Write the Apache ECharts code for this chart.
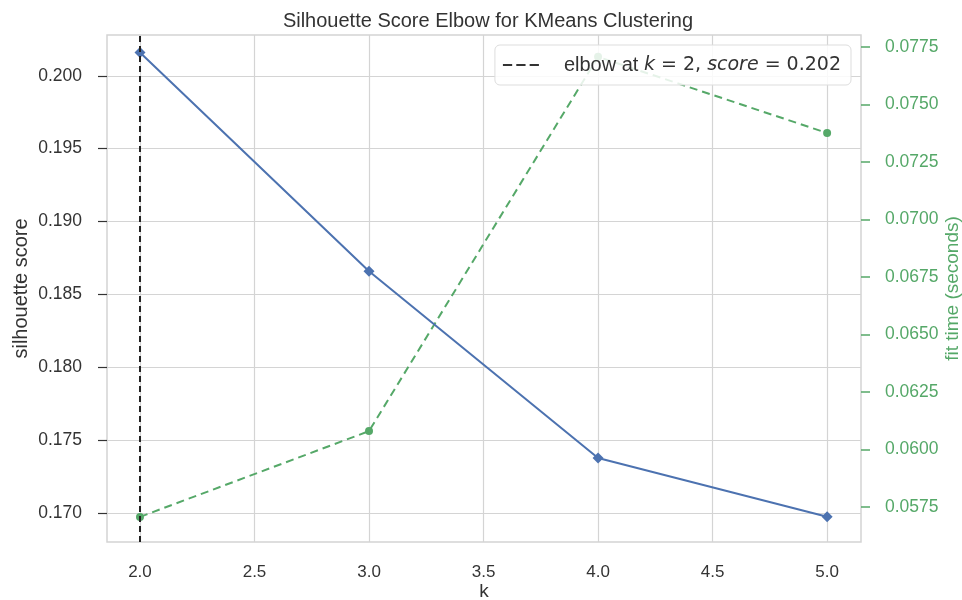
<!DOCTYPE html>
<html><head><meta charset="utf-8">
<script src="https://cdn.jsdelivr.net/npm/echarts@6/dist/echarts.min.js"></script>
<style>html,body{margin:0;padding:0;background:#fff}#c{width:962px;height:600px}</style>
</head><body><div id="c"></div>
<script>
const kValues = [2, 3, 4, 5];
const silhouetteScores = [0.2016, 0.18658, 0.17376, 0.16973];
const fitTimes = [0.05707, 0.0608, 0.07707, 0.07376];
const xTicks = [2.0, 2.5, 3.0, 3.5, 4.0, 4.5, 5.0];
const leftTicks = [0.170, 0.175, 0.180, 0.185, 0.190, 0.195, 0.200];
const rightTicks = [0.0575, 0.0600, 0.0625, 0.0650, 0.0675, 0.0700, 0.0725, 0.0750, 0.0775];
const elbowK = 2;
const elbowScore = 0.202;

const font = 'Liberation Sans, Arial, sans-serif';
const mathFont = 'DejaVu Sans, sans-serif';
const chart = echarts.init(document.getElementById('c'), null, {renderer: 'canvas'});
chart.setOption({
  animation: false,
  backgroundColor: '#fff',
  title: {
    text: 'Silhouette Score Elbow for KMeans Clustering',
    left: 483, top: 6, textAlign: 'center',
    textStyle: {fontFamily: font, fontSize: 20, fontWeight: 'normal', color: '#333'}
  },
  legend: {
    data: [{name: 'elbow', icon: 'path://M0,0h9v2h-9zM13,0h9v2h-9zM26,0h9v2h-9z'}],
    right: 962 - 851, top: 45,
    padding: [10, 10, 10, 8],
    backgroundColor: 'rgba(255,255,255,0.85)',
    borderColor: '#ddd', borderWidth: 1, borderRadius: 5,
    itemWidth: 36, itemHeight: 3, itemGap: 10,
    itemStyle: {color: '#333', borderWidth: 0},
    formatter: function () {
      return '{a|elbow at }{i|k}{m| = ' + elbowK + ', }{i|score}{m| = ' + elbowScore.toFixed(3) + '}';
    },
    textStyle: {
      fontFamily: font, fontSize: 20, color: '#333', padding: [0, 0, 0, 20],
      rich: {
        a: {fontFamily: font, fontSize: 20, color: '#333'},
        i: {fontStyle: 'italic', fontFamily: mathFont, fontSize: 19, color: '#333'},
        m: {fontFamily: mathFont, fontSize: 19, color: '#333'}
      }
    }
  },
  grid: {
    left: 107, right: 101, top: 35, bottom: 58,
    outerBoundsMode: 'none', containLabel: false,
    show: true, borderColor: '#d4d4d4', borderWidth: 1.5, backgroundColor: '#fff'
  },
  xAxis: {
    type: 'value', min: 1.856, max: 5.148,
    name: 'k', nameLocation: 'middle', nameGap: 40, nameMoveOverlap: false,
    nameTextStyle: {fontFamily: font, fontSize: 19, color: '#333'},
    axisLine: {show: false},
    axisTick: {show: false, customValues: xTicks},
    axisLabel: {customValues: xTicks, formatter: v => v.toFixed(1), margin: 22,
      fontFamily: font, fontSize: 17, color: '#333'},
    splitLine: {show: true, lineStyle: {color: '#d4d4d4', width: 1.2}}
  },
  yAxis: [{
    type: 'value', min: 0.168, max: 0.2028, position: 'left',
    name: 'silhouette score', nameLocation: 'middle', nameGap: 76, nameRotate: 90, nameMoveOverlap: false,
    nameTextStyle: {fontFamily: font, fontSize: 20, color: '#333'},
    axisLine: {show: false},
    axisTick: {show: true, length: 9, customValues: leftTicks, lineStyle: {color: '#333', width: 1.2}},
    axisLabel: {customValues: leftTicks, formatter: v => v.toFixed(3), margin: 25,
      fontFamily: font, fontSize: 17.5, color: '#333'},
    splitLine: {show: true, lineStyle: {color: '#d4d4d4', width: 1.2}}
  }, {
    type: 'value', min: 0.05598, max: 0.07802, position: 'right',
    name: 'fit time (seconds)', nameLocation: 'middle', nameGap: 82, nameRotate: 90, nameMoveOverlap: false,
    nameTextStyle: {fontFamily: font, fontSize: 19, color: '#55a868'},
    axisLine: {show: false},
    axisTick: {show: true, length: 9, customValues: rightTicks, lineStyle: {color: '#55a868', width: 1.5}},
    axisLabel: {customValues: rightTicks, formatter: v => v.toFixed(4), margin: 24,
      fontFamily: font, fontSize: 17.5, color: '#55a868'},
    splitLine: {show: false}
  }],
  series: [{
    name: 'score', type: 'line', yAxisIndex: 0,
    data: kValues.map((k, i) => [k, silhouetteScores[i]]),
    symbol: 'diamond', symbolSize: 11,
    lineStyle: {color: '#4c72b0', width: 2},
    itemStyle: {color: '#4c72b0'},
    z: 3
  }, {
    name: 'time', type: 'line', yAxisIndex: 1,
    data: kValues.map((k, i) => [k, fitTimes[i]]),
    symbol: 'circle', symbolSize: 8,
    lineStyle: {color: '#55a868', width: 2, type: [8, 5]},
    itemStyle: {color: '#55a868'},
    z: 2
  }, {
    name: 'elbow', type: 'line', yAxisIndex: 0, data: [],
    symbol: 'none',
    lineStyle: {color: '#222', width: 2, type: [6, 4]},
    itemStyle: {color: '#333'},
    markLine: {
      silent: true, symbol: 'none', label: {show: false},
      lineStyle: {color: '#222', width: 2, type: [6, 4]},
      data: [{xAxis: elbowK}]
    },
    z: 4
  }]
});
</script></body></html>
